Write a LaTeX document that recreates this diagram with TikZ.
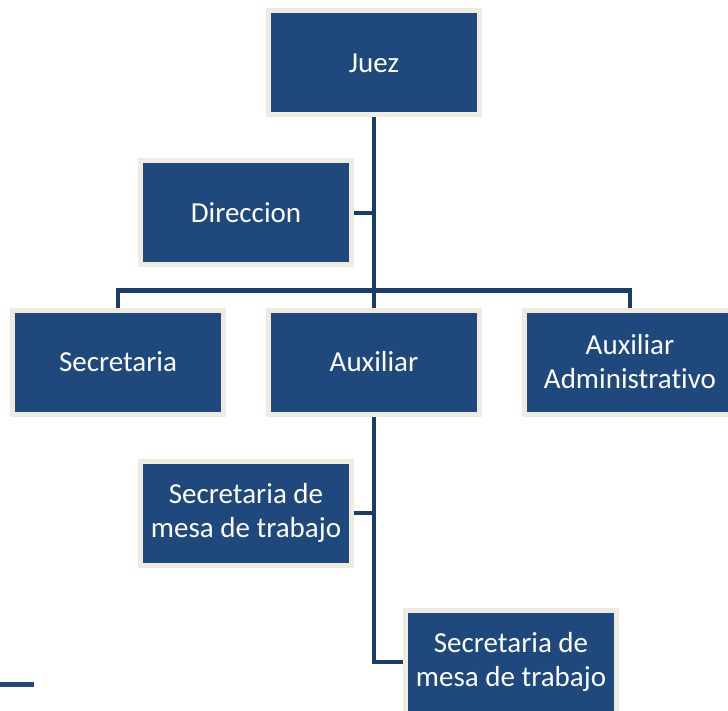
\documentclass[tikz,border=0pt]{standalone}
\usepackage{fontspec}
\setmainfont[Ligatures=NoCommon]{Carlito}
\usetikzlibrary{calc, positioning, backgrounds}
\definecolor{boxblue}{RGB}{31,73,125}
\definecolor{lineblue}{RGB}{25,60,105}
\definecolor{cream}{RGB}{238,236,225}
\tikzset{post/.style={rectangle, fill=boxblue, draw=cream, line width=5pt, minimum width=211pt, minimum height=104pt, inner sep=0pt, text=white, align=center, font=\fontsize{29}{34}\selectfont},
link/.style={draw=lineblue, line width=4.5pt}}

\begin{document}
\begin{tikzpicture}[x=1pt, y=-1pt]
\useasboundingbox (0,0) rectangle (728,711);
\clip (0,0) rectangle (728,711);
\node[post] (juez) at (374,63) {Juez};
\node[post] (direccion) at (246,213) {Direccion};
\node[post] (secretaria) at (118,362) {Secretaria};
\node[post] (auxiliar) at (374,362) {Auxiliar};
\node[post] (auxadmin) at (630,362) {Auxiliar\\Administrativo};
\node[post] (mesa1) at (246,513) {Secretaria de\\mesa de trabajo};
\node[post] (mesa2) at (511,662) {Secretaria de\\mesa de trabajo};

\begin{pgfonlayer}{background}
\draw[link] (juez.south) -- (auxiliar.north);
\draw[link] (direccion.east) -- (direccion.east -| juez.south);
\draw[link] (secretaria.north) -- ++(0,-17) -| (auxadmin.north);
\draw[link] (auxiliar.south) |- (mesa2.west);
\draw[link] (mesa1.east) -- (mesa1.east -| auxiliar.south);
\end{pgfonlayer}

\draw[draw=boxblue, line width=5pt] (0,684.5) -- (34,684.5);
\end{tikzpicture}
\end{document}
